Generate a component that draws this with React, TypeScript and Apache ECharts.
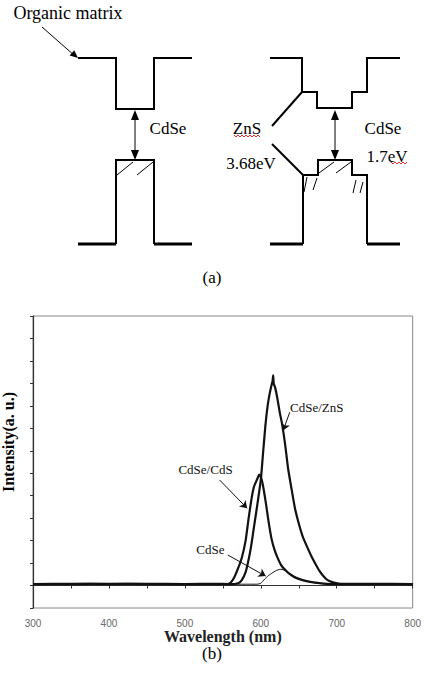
import React, { useEffect, useRef } from "react";
import * as echarts from "echarts";

// ---- Data (panel b) ----
const wavelengthTicks = [300, 400, 500, 600, 700, 800];

const znsWl = [300, 350, 400, 450, 500, 540, 560, 570, 575, 580, 583, 587, 591, 595, 600, 603, 606, 609, 612, 614, 615.5, 616.3, 617, 619, 622, 625, 628, 632, 636, 640, 645, 650, 655, 660, 667, 672, 677, 682, 688, 695, 705, 750, 800];
const znsI = [0.03, 0.04, 0.03, 0.04, 0.03, 0.04, 0.03, 0.05, 0.12, 0.3, 0.5, 0.85, 1.3, 1.75, 2.35, 2.95, 3.55, 4.0, 4.3, 4.45, 4.55, 4.68, 4.5, 4.4, 4.15, 3.85, 3.6, 3.15, 2.6, 2.2, 1.72, 1.38, 1.1, 0.9, 0.64, 0.48, 0.33, 0.22, 0.12, 0.07, 0.04, 0.04, 0.03];

const cdsWl = [300, 350, 400, 450, 500, 540, 555, 560, 565, 570, 575, 580, 584, 588, 591, 594, 596, 598, 600, 602, 604, 607, 610, 614, 618, 622, 627, 632, 637, 645, 655, 665, 680, 700, 750, 800];
const cdsI = [0.03, 0.03, 0.04, 0.03, 0.03, 0.03, 0.03, 0.06, 0.18, 0.38, 0.62, 1.0, 1.5, 1.95, 2.2, 2.32, 2.4, 2.47, 2.42, 2.3, 2.12, 1.8, 1.45, 1.05, 0.8, 0.62, 0.45, 0.35, 0.27, 0.18, 0.12, 0.08, 0.05, 0.03, 0.03, 0.03];

const cdseWl = [300, 400, 500, 595, 600, 605, 610, 615, 620, 625, 628, 632, 637, 645, 655, 665, 675, 690, 750, 800];
const cdseI = [0.03, 0.03, 0.03, 0.03, 0.05, 0.14, 0.22, 0.28, 0.33, 0.36, 0.36, 0.33, 0.28, 0.2, 0.13, 0.08, 0.05, 0.03, 0.03, 0.03];

const seriesNames = ["CdSe/ZnS", "CdSe/CdS", "CdSe"];

// ---- Schematic geometry (panel a) ----
const leftTop = [[78, 58], [116, 58], [116, 109], [154, 109], [154, 58], [192, 58]];
const leftBottom = [[116, 244], [116, 160], [154, 160], [154, 244]];
const leftBottomFlats = [[[78, 244], [116, 244]], [[154, 244], [192, 244]]];
const rightTop = [[270, 58], [302, 58], [302, 92], [317, 92], [317, 108], [352, 108], [352, 92], [367, 92], [367, 58], [400, 58]];
const rightBottom = [[303, 244], [303, 175], [318, 175], [318, 160], [352, 160], [352, 175], [367, 175], [367, 244]];
const rightBottomFlats = [[[270, 244], [303, 244]], [[367, 244], [400, 244]]];
const diagonals = [[[272, 126], [302, 92]], [[272, 144], [303, 175]]];
const hatches = [
  [[117, 175], [133, 162]], [[137, 175], [153, 162]],
  [[319, 173], [334, 162]], [[336, 173], [351, 162]],
  [[304, 192], [307, 177]], [[313, 190], [317, 178]],
  [[353, 193], [356, 180]], [[360, 193], [363, 182]],
];

function arrowHead(x1: number, y1: number, x2: number, y2: number, len = 9, hw = 4) {
  const dx = x2 - x1, dy = y2 - y1;
  const d = Math.hypot(dx, dy);
  const ux = dx / d, uy = dy / d;
  const bx = x2 - ux * len, by = y2 - uy * len;
  return {
    type: "polygon",
    shape: { points: [[x2, y2], [bx - uy * hw, by + ux * hw], [bx + uy * hw, by - ux * hw]] },
    style: { fill: "#000" },
  };
}

function wavy(x0: number, x1: number, y: number) {
  const pts: number[][] = [];
  let up = true;
  for (let x = x0; x <= x1; x += 2) {
    pts.push([x, up ? y - 1 : y + 1]);
    up = !up;
  }
  return { type: "polyline", shape: { points: pts }, style: { stroke: "#e03030", lineWidth: 1, fill: "none" } };
}

function line(pts: number[][], w = 2) {
  return { type: "polyline", shape: { points: pts }, style: { stroke: "#000", lineWidth: w, fill: "none" } };
}

function txt(text: string, x: number, y: number, size = 17, extra: any = {}) {
  return {
    type: "text",
    x,
    y,
    style: {
      text,
      fontFamily: "Liberation Serif",
      fontSize: size,
      fill: "#000",
      align: "center",
      verticalAlign: "middle",
      ...extra,
    },
  };
}

function buildGraphic() {
  const g: any[] = [];
  // organic matrix arrow
  g.push(line([[42, 27], [75, 56]], 1));
  g.push(arrowHead(42, 27, 78, 58, 8, 3.5));
  g.push(txt("Organic matrix", 68, 13, 18));
  // bands
  g.push(line(leftTop));
  g.push(line(leftBottom));
  leftBottomFlats.forEach((p) => g.push(line(p, 3)));
  g.push(line(rightTop));
  g.push(line(rightBottom));
  rightBottomFlats.forEach((p) => g.push(line(p, 3)));
  diagonals.forEach((p) => g.push(line(p, 2)));
  hatches.forEach((p) => g.push(line(p, 1)));
  // double arrows
  [135, 335].forEach((x) => {
    g.push(line([[x, 118], [x, 152]], 1));
    g.push(arrowHead(x, 135, x, 110, 10, 4));
    g.push(arrowHead(x, 135, x, 160, 10, 4));
  });
  // labels
  g.push(txt("CdSe", 168, 128));
  g.push(txt("ZnS", 247, 128));
  g.push(wavy(234, 261, 136));
  g.push(txt("3.68eV", 251, 163));
  g.push(txt("CdSe", 383, 128));
  g.push(txt("1.7eV", 387, 156));
  g.push(wavy(391, 408, 163));
  g.push(txt("(a)", 212, 277));
  // panel b extra texts
  g.push(txt("(b)", 212, 653));
  g.push(txt("Intensity(a. u.)", 8, 442, 16, { fontWeight: "bold" }));
  g[g.length - 1].rotation = Math.PI / 2;
  return g;
}

const annoFont = { fontFamily: "Liberation Serif", fontSize: 13, color: "#111" };

function zip(a: number[], b: number[]) {
  return a.map((v, i) => [v, b[i]]);
}

export default function App() {
  const ref = useRef<HTMLDivElement>(null);
  useEffect(() => {
    if (!ref.current) return;
    const chart = echarts.init(ref.current, null, { renderer: "svg" });
    const mk = (name: string, data: number[][], width: number, arrow: number[][], label: number[]) => ({
      name,
      type: "line",
      data,
      showSymbol: false,
      symbol: "none",
      smooth: 0.2,
      lineStyle: { color: "#111", width },
      z: width > 1 ? 3 : 2,
      markLine: {
        silent: true,
        symbol: ["none", "arrow"],
        symbolSize: 7,
        label: { show: false },
        lineStyle: { color: "#111", width: 1, type: "solid" },
        data: [[{ coord: arrow[0] }, { coord: arrow[1] }]],
      },
      markPoint: {
        silent: true,
        symbol: "circle",
        symbolSize: 0,
        label: { show: true, position: "inside", formatter: name, ...annoFont },
        data: [{ coord: label }],
      },
    });
    chart.setOption({
      animation: false,
      backgroundColor: "#fff",
      grid: { left: 33, right: 7, top: 316, bottom: 65, show: true, borderColor: "#888", borderWidth: 1 },
      xAxis: {
        type: "value",
        min: wavelengthTicks[0],
        max: wavelengthTicks[wavelengthTicks.length - 1],
        interval: 100,
        axisLine: { lineStyle: { color: "#333", width: 1.2 } },
        axisTick: { inside: false, length: 3, lineStyle: { color: "#333" } },
        minorTick: { show: true, splitNumber: 2, length: 3, lineStyle: { color: "#333" } },
        splitLine: { show: false },
        minorSplitLine: { show: false },
        axisLabel: { color: "#666", fontFamily: "Liberation Sans", fontSize: 10, margin: 10 },
        name: "Wavelength (nm)",
        nameLocation: "middle",
        nameGap: 12,
        nameTextStyle: { fontFamily: "Liberation Serif", fontWeight: "bold", fontSize: 16, color: "#222" },
      },
      yAxis: {
        type: "value",
        min: -0.5,
        max: 6,
        interval: 0.5,
        axisLine: { show: true, lineStyle: { color: "#333", width: 1.2 } },
        axisTick: { show: true, inside: false, length: 3, lineStyle: { color: "#333" } },
        axisLabel: { show: false },
        splitLine: { show: false },
      },
      series: [
        mk(seriesNames[0], zip(znsWl, znsI), 2.2, [[638.2, 3.86], [629.4, 3.45]], [673.7, 3.96]),
        mk(seriesNames[1], zip(cdsWl, cdsI), 2.2, [[545.7, 2.35], [582, 1.72]], [527.2, 2.59]),
        mk(seriesNames[2], zip(cdseWl, cdseI), 1, [[556.5, 0.68], [606.4, 0.21]], [533.7, 0.81]),
      ],
      graphic: buildGraphic(),
    });
    return () => chart.dispose();
  }, []);
  return (
    <div
      ref={ref}
      style={{ position: "fixed", left: 0, top: 0, width: 424, height: 673, background: "#fff" }}
    />
  );
}
